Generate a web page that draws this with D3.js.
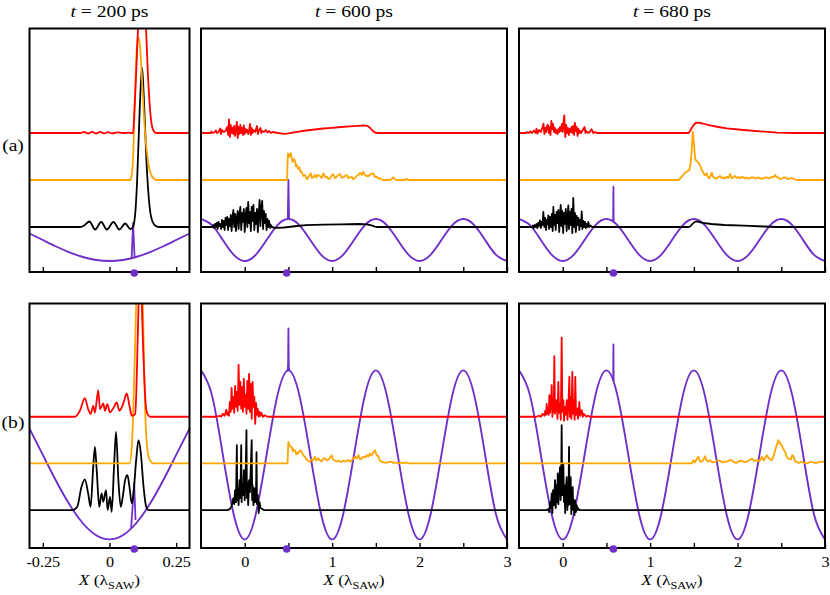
<!DOCTYPE html>
<html><head><meta charset="utf-8">
<script src="https://cdn.jsdelivr.net/npm/d3@7"></script>
<style>body{margin:0;background:#fff}svg{display:block}</style>
</head><body>
<svg id="c" width="830" height="595"></svg>
<script>
// ---------------- DATA ----------------
const titles = ["200", "600", "680"];           // t = ... ps
const rowLabels = ["(a)", "(b)"];
const xDomainLeft = [-0.3, 0.3];
const xDomainWide = [-0.5, 3];
const ticksLeft = [-0.25, 0, 0.25];
const tickLabelsLeft = ["-0.25", "0", "0.25"];
const ticksWide = [0, 0.5, 1, 1.5, 2, 2.5, 3];
const tickLabelsWide = ["0", "", "1", "", "2", "", "3"];
const yDomainA = [0, 243.5];
const yDomainB = [0, 245];
// baseline offsets of the stacked traces [red, orange, black]
const baselineA = [139, 92, 45];
const baselineB = [131.5, 84.7, 38];
// marker positions (purple dots) per column
const dotX = [0.093, 0.48, 0.58];

// SAW potential (purple), sampled
const waveXWide = [-0.5,-0.375,-0.25,-0.125,0,0.125,0.25,0.375,0.5,0.625,0.75,0.875,1,1.125,1.25,1.375,1.5,1.625,1.75,1.875,2,2.125,2.25,2.375,2.5,2.625,2.75,2.875,3];
const waveWideA = [53,46.9,32,17.1,11,17.1,32,46.9,53,46.9,32,17.1,11,17.1,32,46.9,53,46.9,32,17.1,11,17.1,32,46.9,53,46.9,32,17.1,11];
const waveWideB = [178,153.2,93.3,33.4,8.6,33.4,93.3,153.2,178,153.2,93.3,33.4,8.6,33.4,93.3,153.2,178,153.2,93.3,33.4,8.6,33.4,93.3,153.2,178,153.2,93.3,33.4,8.6];
const waveXLeft = [-0.3,-0.25,-0.2,-0.15,-0.1,-0.05,0,0.05,0.1,0.15,0.2,0.25,0.3];
const waveLeftA = [38.5,32,25.5,19.7,15,12,11,12,15,19.7,25.5,32,38.5];
const waveLeftB = [119.5,93.3,67.1,43.5,24.8,12.8,8.6,12.8,24.8,43.5,67.1,93.3,119.5];
// spikes on the purple potential
const a200Spike = [[0.083,13.8],[0.0885,49],[0.094,14.5]];
const a600Spike = [[0.493,52.9],[0.5,92],[0.507,52.9]];
const a680Spike = [[0.577,50.6],[0.58,85.3],[0.583,50.1]];
const b200Spike = [[0.081,19.4],[0.0925,65],[0.0975,28]];
const b600Spike = [[0.488,177.4],[0.496,182],[0.5,220],[0.504,182],[0.512,177.4]];
const b680Spike = [[0.577,168.5],[0.58,204],[0.583,166.8]];

// ---- row (a), t = 200 ps ----
const a200Red = [[-0.3,0],[-0.11,0],[-0.095,1],[-0.08,-0.5],[-0.065,1.1],[-0.05,-0.5],[-0.035,1.1],[-0.02,-0.4],[-0.005,0.9],[0.01,-0.3],[0.03,0.7],[0.05,0],[0.07,0.4],[0.085,0],[0.088,0],[0.094,25],[0.1,60],[0.107,105],[0.115,140],[0.125,150],[0.131,140],[0.137,105],[0.143,65],[0.1495,33],[0.155,15],[0.16,6],[0.167,1.5],[0.175,0],[0.3,0]];
const a200Orange = [[-0.3,0],[0.078,0],[0.083,4],[0.088,20],[0.093,60],[0.097,97],[0.101,125],[0.1055,143],[0.11,141],[0.1157,130],[0.122,100],[0.128,70],[0.134,45],[0.1409,27],[0.148,13],[0.154,7],[0.16,3.3],[0.168,1],[0.178,0],[0.3,0]];
const a200Black = [[-0.3,0],[-0.11,0],[-0.095,1.5],[-0.075,5.5],[-0.054,-2.5],[-0.031,5],[-0.01,-2.5],[0.015,5],[0.037,-2.5],[0.059,3.5],[0.078,-2],[0.088,0],[0.0906,2],[0.097,15],[0.1032,44],[0.1132,117],[0.118,145],[0.122,159],[0.126,145],[0.1307,117],[0.1409,54],[0.147,30],[0.1533,14],[0.162,5],[0.172,1.3],[0.185,0],[0.3,0]];

// ---- row (a), t = 600 ps ----
const a600Red = [[-0.5,0],[-0.39,0],[-0.38,1.5],[-0.37,0],[-0.35,0.5],[-0.33,2.5],[-0.32,0],[-0.3,1],[-0.28,4.5],[-0.27,-1],[-0.26,3],[-0.24,1],[-0.22,2],[-0.2,6],[-0.19,-2],[-0.18,13.5],[-0.17,-4],[-0.16,8],[-0.15,0],[-0.14,5],[-0.13,-1],[-0.12,7],[-0.11,-3],[-0.1,4],[-0.09,11],[-0.08,-5],[-0.07,6],[-0.06,-1],[-0.05,8],[-0.04,0],[-0.03,5],[-0.02,-2],[-0.01,7.5],[0,-1],[0.01,4],[0.02,1],[0.03,3],[0.04,-1],[0.05,2],[0.06,9],[0.07,-2],[0.08,5],[0.09,0],[0.1,3],[0.12,1],[0.13,4],[0.14,7],[0.15,-1],[0.16,2],[0.18,5],[0.19,0],[0.2,2],[0.22,1],[0.24,3],[0.26,0.5],[0.28,2],[0.3,0],[0.32,1],[0.35,0.5],[0.38,0],[0.45,-0.8],[0.5,-0.3],[0.6,1.2],[0.7,2.5],[0.8,3.5],[0.9,4.5],[1.0,5.2],[1.1,6],[1.2,6.6],[1.3,7.2],[1.36,7.6],[1.4,7.2],[1.43,5.5],[1.46,2.5],[1.49,0.5],[1.52,0],[3,0]];
const a600Orange = [[-0.5,0],[0.485,0],[0.49,18],[0.495,26.7],[0.51,23],[0.526,27],[0.54,21],[0.549,18],[0.56,21],[0.576,19],[0.585,14],[0.595,15],[0.61,11],[0.625,12.7],[0.64,8],[0.652,8.3],[0.67,4],[0.69,5],[0.705,2],[0.716,0.7],[0.735,4],[0.755,6.7],[0.77,2],[0.785,2.7],[0.805,5],[0.82,2.5],[0.835,5],[0.862,4],[0.88,2],[0.9,6.7],[0.92,3],[0.938,3.3],[0.955,1],[0.976,1.7],[0.995,4.5],[1.014,5.7],[1.03,2],[1.053,3.3],[1.07,5],[1.09,6],[1.11,2],[1.128,2.7],[1.145,4],[1.167,5],[1.185,2],[1.205,2.7],[1.225,3],[1.243,0.7],[1.26,2],[1.28,4],[1.3,5],[1.32,7.3],[1.34,5],[1.357,8.3],[1.375,5],[1.396,4],[1.415,4],[1.434,5.7],[1.45,6],[1.471,6.7],[1.49,3],[1.51,3.3],[1.53,1.5],[1.548,1.7],[1.57,0.3],[1.586,0],[1.662,0],[1.68,1],[1.7,2.7],[1.72,0.5],[1.739,0],[1.84,0],[1.853,1.3],[1.875,0],[3,0]];
const a600Black = [[-0.5,0],[-0.37,0],[-0.36,2],[-0.35,-1],[-0.34,3],[-0.33,0],[-0.32,4],[-0.31,-2],[-0.3,5],[-0.29,1],[-0.28,3],[-0.27,-2],[-0.26,7],[-0.25,0],[-0.24,6],[-0.23,-3],[-0.22,9],[-0.21,2],[-0.2,10],[-0.19,-3],[-0.18,8],[-0.17,1],[-0.16,12],[-0.15,-4],[-0.14,10],[-0.13,17],[-0.12,0],[-0.11,13],[-0.1,-4],[-0.09,9],[-0.08,16],[-0.07,-2],[-0.06,12],[-0.05,20],[-0.04,-3],[-0.03,14],[-0.02,5],[-0.01,18],[0,-5],[0.01,11],[0.02,19],[0.03,0],[0.04,25],[0.05,4],[0.06,15],[0.07,-4],[0.08,20],[0.09,6],[0.1,22],[0.11,-3],[0.12,14],[0.13,3],[0.14,18],[0.15,-5],[0.16,12],[0.17,27],[0.18,1],[0.19,20],[0.2,26],[0.21,-2],[0.22,16],[0.23,4],[0.24,13],[0.25,-3],[0.26,8],[0.27,0],[0.28,6],[0.29,-1],[0.3,2],[0.31,0],[0.35,-0.8],[0.45,-0.5],[0.5,0],[0.6,1],[0.7,1.8],[0.9,2.3],[1.1,2.7],[1.3,3],[1.4,2.6],[1.45,1.6],[1.49,0.4],[1.52,0],[3,0]];

// ---- row (a), t = 680 ps ----
const a680Red = [[-0.5,0],[-0.42,0],[-0.41,1],[-0.39,0],[-0.37,1.5],[-0.35,0],[-0.33,2.5],[-0.31,0],[-0.3,4.3],[-0.29,-0.5],[-0.27,3],[-0.25,1],[-0.23,6],[-0.22,9.3],[-0.21,-1],[-0.2,5],[-0.19,1],[-0.18,7],[-0.17,8.3],[-0.16,0],[-0.15,6],[-0.14,-2],[-0.13,12],[-0.12,4],[-0.11,9],[-0.1,1],[-0.09,5],[-0.08,0],[-0.07,3],[-0.06,-1],[-0.05,4],[-0.04,1],[-0.03,6],[-0.02,2],[-0.01,9],[0,1],[0.01,12],[0.018,17.7],[0.025,3],[0.03,-4],[0.04,8],[0.05,0],[0.06,5],[0.07,-2],[0.08,4],[0.09,1],[0.1,6],[0.11,0],[0.12,7],[0.13,-2],[0.14,10],[0.15,2],[0.16,6],[0.17,-3],[0.18,4],[0.19,0],[0.2,2],[0.21,0],[0.23,3],[0.25,6],[0.26,0],[0.27,2],[0.29,0],[0.31,1],[0.33,3.7],[0.35,0],[0.37,1],[0.39,0],[1.44,0],[1.456,2],[1.494,7.7],[1.52,10],[1.55,10.3],[1.6,9.5],[1.685,7.7],[1.78,6],[1.876,4.7],[2.07,3],[2.257,1.7],[2.45,0.3],[2.64,0],[3,0]];
const a680Orange = [[-0.5,0],[1.323,0],[1.36,3],[1.399,7.3],[1.43,9],[1.449,10],[1.465,18],[1.476,30],[1.487,48.3],[1.498,40],[1.514,21.7],[1.528,19],[1.54,18.3],[1.555,17],[1.571,15],[1.585,11],[1.602,8.3],[1.615,6],[1.628,5],[1.647,6.7],[1.66,3],[1.677,1.7],[1.69,4],[1.705,7.3],[1.718,3],[1.731,2.7],[1.745,1.5],[1.762,1.7],[1.78,3],[1.8,4],[1.82,2],[1.838,2.7],[1.855,1.5],[1.876,3.3],[1.895,2],[1.914,6],[1.933,1.7],[1.95,2.5],[1.971,4],[1.99,2],[2.01,3],[2.029,1.7],[2.05,3],[2.067,2.7],[2.09,1.5],[2.105,2.5],[2.124,1.3],[2.15,2.5],[2.181,2.7],[2.21,1.3],[2.23,2.5],[2.257,2],[2.28,1],[2.31,2.3],[2.334,2.7],[2.36,1.5],[2.391,3.3],[2.41,2.5],[2.429,5],[2.447,3],[2.467,2.7],[2.485,1],[2.505,1.3],[2.525,2.5],[2.544,2.7],[2.57,1],[2.601,1.3],[2.62,2],[2.639,1.3],[2.66,0.5],[2.677,0],[3,0]];
const a680Black = [[-0.5,0],[-0.35,0],[-0.34,1.5],[-0.33,-1],[-0.32,2],[-0.31,0],[-0.3,3],[-0.29,-1],[-0.28,4],[-0.27,1],[-0.26,6.7],[-0.25,-1],[-0.24,5],[-0.23,2],[-0.222,15],[-0.21,0],[-0.2,9],[-0.19,-3],[-0.18,7],[-0.17,3],[-0.165,11.7],[-0.155,-2],[-0.145,10],[-0.135,0],[-0.125,13],[-0.115,-4],[-0.107,20],[-0.1,2],[-0.09,12],[-0.08,-3],[-0.07,15],[-0.06,4],[-0.05,17],[-0.04,-5],[-0.03,12],[-0.023,22],[-0.015,1],[-0.005,16],[0.005,-6],[0.015,14],[0.025,3],[0.035,18],[0.045,-4],[0.055,10],[0.064,21.7],[0.072,-2],[0.082,15],[0.09,2],[0.1,18],[0.11,-6],[0.121,29],[0.13,0],[0.14,14],[0.15,-5],[0.16,11],[0.17,2],[0.18,9],[0.19,-3],[0.2,7],[0.21,1],[0.217,15.7],[0.225,-2],[0.235,6],[0.245,0],[0.255,5],[0.265,-1],[0.275,3],[0.285,0],[0.293,5],[0.305,0],[0.32,1.5],[0.335,0],[1.44,0],[1.457,0.5],[1.5,4.5],[1.53,5.7],[1.6,4.2],[1.7,3],[1.85,2],[2.07,1.3],[2.3,0.5],[2.45,0],[3,0]];

// ---- row (b), t = 200 ps ----
const b200Red = [[-0.3,0],[-0.13,0],[-0.111,6],[-0.0925,18.7],[-0.08,7.7],[-0.071,2.7],[-0.061,11],[-0.0547,4.3],[-0.0421,26.7],[-0.0358,7.7],[-0.0233,13.3],[-0.017,6],[-0.0082,12.7],[0.0019,4.3],[0.0145,8.7],[0.027,14.3],[0.037,6],[0.046,9.3],[0.0547,16],[0.0648,23.3],[0.0748,11],[0.0836,1],[0.0962,2.7],[0.1,20],[0.105,70],[0.1088,111],[0.115,160],[0.1215,111],[0.126,70],[0.131,35],[0.136,12],[0.1403,4.3],[0.147,1],[0.153,0],[0.3,0]];
const b200Orange = [[-0.3,0],[0.075,0],[0.0836,16.7],[0.0924,83],[0.1,158],[0.112,230],[0.1252,158],[0.13,95],[0.134,50],[0.14,20],[0.1465,6.7],[0.155,2],[0.165,0],[0.3,0]];
const b200Black = [[-0.3,0],[-0.137,0],[-0.121,3.3],[-0.105,23.3],[-0.0925,30.7],[-0.08,16.7],[-0.071,3.3],[-0.061,43.3],[-0.0547,63.3],[-0.048,40],[-0.0384,3.3],[-0.0296,16.7],[-0.0233,8.3],[-0.0132,20],[-0.0069,0],[0.0019,13.3],[0.0082,-1.7],[0.017,43.3],[0.0245,78.3],[0.0333,30],[0.0421,3.3],[0.0497,13.3],[0.0585,30],[0.0673,35],[0.0748,23.3],[0.0836,6.7],[0.0899,16.7],[0.1,50],[0.1088,70],[0.1176,56.7],[0.1277,23.3],[0.1377,3.3],[0.1465,0],[0.3,0]];

// ---- row (b), t = 600 ps ----
const b600Red = [[-0.5,0],[-0.32,0],[-0.29,1],[-0.27,0],[-0.25,3],[-0.23,1],[-0.21,7],[-0.2,2],[-0.19,4],[-0.18,1],[-0.17,15],[-0.16,5],[-0.15,29],[-0.14,8],[-0.13,20],[-0.12,4],[-0.11,31],[-0.1,10],[-0.09,25],[-0.08,6],[-0.07,52],[-0.06,12],[-0.05,35],[-0.04,8],[-0.03,30],[-0.02,5],[-0.01,38],[0,10],[0.01,22],[0.02,3],[0.03,36],[0.04,8],[0.05,43],[0.06,5],[0.07,33],[0.08,-2],[0.09,35],[0.1,10],[0.11,20],[0.12,-7],[0.13,14],[0.14,2],[0.15,8],[0.16,0],[0.17,5],[0.18,1],[0.19,4],[0.21,0],[0.23,1.5],[0.26,0],[3,0]];
const b600Orange = [[-0.5,0],[0.49,0],[0.499,21.7],[0.51,19],[0.52,17],[0.537,16.7],[0.55,12],[0.56,14],[0.576,13],[0.59,9],[0.6,11],[0.613,10],[0.63,13],[0.652,11.7],[0.67,8],[0.69,6.7],[0.705,4],[0.72,3],[0.747,1.7],[0.765,4],[0.78,3],[0.804,6.7],[0.82,3],[0.84,5],[0.862,3],[0.88,2],[0.9,5],[0.919,5],[0.94,3],[0.96,4],[0.995,8.3],[1.01,4],[1.033,3],[1.05,2],[1.07,3],[1.09,1.7],[1.11,1.7],[1.13,3],[1.15,2],[1.17,3],[1.185,3.3],[1.21,1.7],[1.23,4],[1.262,6.7],[1.28,5],[1.3,8.3],[1.32,4],[1.339,5],[1.36,7],[1.38,6],[1.396,8.3],[1.415,7],[1.434,10],[1.45,8],[1.47,11],[1.49,13.3],[1.51,8],[1.529,7.3],[1.545,3],[1.567,1.7],[1.59,1],[1.625,0.7],[1.65,1.5],[1.682,1.7],[1.7,0.5],[1.72,1],[1.758,0],[1.78,1],[1.796,0.7],[1.82,0.3],[1.85,1],[1.872,0],[3,0]];
const b600Black = [[-0.5,0],[-0.2,0],[-0.17,1],[-0.15,4],[-0.13,12],[-0.12,6],[-0.11,20],[-0.1,8],[-0.09,65],[-0.085,10],[-0.08,22],[-0.07,5],[-0.06,30],[-0.05,12],[-0.04,65],[-0.035,8],[-0.03,25],[-0.02,15],[-0.01,40],[0,10],[0.01,35],[0.02,80],[0.025,12],[0.03,28],[0.04,5],[0.05,30],[0.06,18],[0.07,45],[0.08,70],[0.085,10],[0.09,25],[0.1,5],[0.11,22],[0.12,8],[0.13,20],[0.135,58],[0.14,6],[0.15,15],[0.16,-3],[0.17,8],[0.18,2],[0.2,1],[0.22,0],[3,0]];

// ---- row (b), t = 680 ps ----
const b680Red = [[-0.5,0],[-0.3,0],[-0.27,1],[-0.25,0],[-0.23,3],[-0.21,1],[-0.2,6],[-0.19,2],[-0.183,13],[-0.175,3],[-0.165,9],[-0.16,2],[-0.153,21.7],[-0.145,4],[-0.135,12],[-0.126,31.7],[-0.118,0],[-0.11,18],[-0.103,5],[-0.096,60.7],[-0.088,3],[-0.08,14],[-0.069,16.7],[-0.06,-2],[-0.05,35],[-0.042,4],[-0.031,13.3],[-0.022,-3],[-0.012,79.3],[-0.004,5],[0.007,16.7],[0.015,-4],[0.026,10],[0.035,2],[0.046,16.7],[0.055,-3],[0.065,12],[0.076,40],[0.083,0],[0.091,20],[0.1,-2],[0.11,45],[0.12,3],[0.129,16.7],[0.136,-3],[0.144,40],[0.152,2],[0.16,8],[0.167,8.3],[0.175,-2],[0.183,6],[0.19,15],[0.2,1],[0.208,5],[0.217,6.7],[0.23,0],[0.24,3],[0.255,1.7],[0.27,0],[0.29,1],[0.312,0],[3,0]];
const b680Orange = [[-0.5,0],[1.476,0],[1.495,3.3],[1.51,1],[1.53,4],[1.552,6.7],[1.57,2],[1.59,1.7],[1.61,4],[1.628,7.3],[1.645,3],[1.66,2],[1.685,3.3],[1.71,1],[1.743,1.7],[1.77,3],[1.8,2.7],[1.83,1],[1.853,2],[1.876,1.7],[1.9,3],[1.933,3.3],[1.96,1],[1.99,0.7],[2.02,2.5],[2.048,2.7],[2.075,1.5],[2.105,1.7],[2.13,3],[2.162,5],[2.19,2.5],[2.22,3.3],[2.25,2],[2.277,6.7],[2.3,3],[2.334,8.3],[2.36,5],[2.391,3.3],[2.41,7],[2.43,13.3],[2.45,19],[2.467,23.3],[2.485,20],[2.505,18.3],[2.525,14],[2.544,11.7],[2.565,6],[2.582,5],[2.61,4],[2.625,8.3],[2.639,7],[2.66,2],[2.677,1.7],[2.7,0.5],[2.734,1.7],[2.76,0.5],[2.791,0],[2.82,1],[2.848,1.7],[2.88,0.5],[2.906,0.7],[2.935,1.5],[2.963,1.7],[3,2]];
const b680Black = [[-0.5,0],[-0.18,0],[-0.165,1],[-0.155,-2],[-0.145,8],[-0.135,2],[-0.126,16.7],[-0.118,-3],[-0.11,20],[-0.1,5],[-0.088,30],[-0.08,2],[-0.07,25],[-0.063,8],[-0.057,36.7],[-0.05,6],[-0.04,28],[-0.031,43],[-0.024,10],[-0.017,35],[-0.012,85],[-0.006,15],[0.0,30],[0.007,46.7],[0.014,8],[0.02,25],[0.028,-3],[0.036,22],[0.046,33],[0.053,0],[0.06,18],[0.066,5],[0.072,63.3],[0.079,6],[0.085,20],[0.091,33],[0.098,-4],[0.105,14],[0.114,23],[0.12,0],[0.128,10],[0.135,-5],[0.141,10],[0.15,-2],[0.16,5],[0.17,0],[0.179,1.7],[0.19,0],[3,0]];

// ---------------- LAYOUT / STYLE ----------------
const COLORS = {red:"#ff0000", orange:"#ffa500", black:"#000000", purple:"#6f2fc8"};
const FONT = "'Liberation Serif','Times New Roman',serif";
const SX = 1.12; // horizontal stretch of the lettering
const cols = [{x0:29.5,x1:189.5},{x0:201,x1:507},{x0:519,x1:825}];
const rows = [{y0:28.5,y1:272},{y0:303.5,y1:548}];

const panels = [
  {r:0,c:0,dom:xDomainLeft,yd:yDomainA,base:baselineA,red:a200Red,orange:a200Orange,black:a200Black,wx:waveXLeft,wy:waveLeftA,spike:a200Spike,smooth:true},
  {r:0,c:1,dom:xDomainWide,yd:yDomainA,base:baselineA,red:a600Red,orange:a600Orange,black:a600Black,wx:waveXWide,wy:waveWideA,spike:a600Spike,smooth:false},
  {r:0,c:2,dom:xDomainWide,yd:yDomainA,base:baselineA,red:a680Red,orange:a680Orange,black:a680Black,wx:waveXWide,wy:waveWideA,spike:a680Spike,smooth:false},
  {r:1,c:0,dom:xDomainLeft,yd:yDomainB,base:baselineB,red:b200Red,orange:b200Orange,black:b200Black,wx:waveXLeft,wy:waveLeftB,spike:b200Spike,smooth:true},
  {r:1,c:1,dom:xDomainWide,yd:yDomainB,base:baselineB,red:b600Red,orange:b600Orange,black:b600Black,wx:waveXWide,wy:waveWideB,spike:b600Spike,smooth:false},
  {r:1,c:2,dom:xDomainWide,yd:yDomainB,base:baselineB,red:b680Red,orange:b680Orange,black:b680Black,wx:waveXWide,wy:waveWideB,spike:b680Spike,smooth:false}
];

const svg = d3.select("#c");
const defs = svg.append("defs");

panels.forEach((p, i) => {
  const col = cols[p.c], row = rows[p.r];
  const x = d3.scaleLinear().domain(p.dom).range([col.x0, col.x1]);
  const y = d3.scaleLinear().domain(p.yd).range([row.y1, row.y0]);
  defs.append("clipPath").attr("id", "clip" + i)
    .append("rect").attr("x", col.x0).attr("y", row.y0)
    .attr("width", col.x1 - col.x0).attr("height", row.y1 - row.y0);
  const g = svg.append("g").attr("clip-path", `url(#clip${i})`);

  // purple potential
  const waveLine = d3.line().x(d => x(d[0])).y(d => y(d[1])).curve(d3.curveNatural);
  g.append("path").datum(p.wx.map((v, k) => [v, p.wy[k]]))
    .attr("d", waveLine).attr("fill", "none").attr("stroke", COLORS.purple)
    .attr("stroke-width", 1.9);
  g.append("path").datum(p.spike)
    .attr("d", d3.line().x(d => x(d[0])).y(d => y(d[1])))
    .attr("fill", "none").attr("stroke", COLORS.purple).attr("stroke-width", 1.8)
    .attr("stroke-linejoin", "round");

  const trace = (data, off, color) => {
    const ln = d3.line().x(d => x(d[0])).y(d => y(off + d[1]))
      .curve(p.smooth ? d3.curveMonotoneX : d3.curveLinear);
    g.append("path").datum(data).attr("d", ln).attr("fill", "none")
      .attr("stroke", color).attr("stroke-width", 1.8)
      .attr("stroke-linejoin", "round");
  };
  trace(p.black, p.base[2], COLORS.black);
  trace(p.orange, p.base[1], COLORS.orange);
  trace(p.red, p.base[0], COLORS.red);

  // frame
  svg.append("rect").attr("x", col.x0).attr("y", row.y0)
    .attr("width", col.x1 - col.x0).attr("height", row.y1 - row.y0)
    .attr("fill", "none").attr("stroke", "#000").attr("stroke-width", 2);

  // axis ticks (inward)
  const isLeft = p.c === 0;
  const tv = isLeft ? ticksLeft : ticksWide;
  const tl = isLeft ? tickLabelsLeft : tickLabelsWide;
  const axis = d3.axisBottom(x).tickValues(tv).tickSizeInner(-5).tickSizeOuter(0)
    .tickFormat((d, k) => p.r === 1 ? tl[k] : "");
  const ag = svg.append("g").attr("transform", `translate(0,${row.y1})`).call(axis);
  ag.select(".domain").remove();
  ag.selectAll(".tick line").attr("stroke", "#000").attr("stroke-width", 1.4);
  ag.selectAll(".tick text").attr("font-family", FONT).attr("font-size", 14.5)
    .attr("fill", "#000").attr("y", 19).attr("dy", null)
    .attr("transform", `scale(${SX},1)`);

  // marker dot
  svg.append("circle").attr("cx", x(dotX[p.c])).attr("cy", row.y1 + 1)
    .attr("r", 3.8).attr("fill", COLORS.purple);

  // titles (top row) and x labels (bottom row)
  const cx = (col.x0 + col.x1) / 2;
  if (p.r === 0) {
    const t = svg.append("text").attr("font-family", FONT).attr("font-size", 17.5)
      .attr("text-anchor", "middle")
      .attr("transform", `translate(${cx},17) scale(${SX},1)`);
    t.append("tspan").attr("font-style", "italic").text("t");
    t.append("tspan").text(" = " + titles[p.c] + " ps");
  } else {
    const t = svg.append("text").attr("font-family", FONT).attr("font-size", 15.5)
      .attr("text-anchor", "middle")
      .attr("transform", `translate(${cx},585) scale(${SX},1)`);
    t.append("tspan").attr("font-style", "italic").text("X");
    t.append("tspan").text(" (λ");
    t.append("tspan").attr("font-size", 11).attr("dy", 4).text("SAW");
    t.append("tspan").attr("dy", -4).text(")");
  }
});

// row labels
[[151, 0], [428, 1]].forEach(([yy, k]) => {
  svg.append("text").attr("font-family", FONT).attr("font-size", 17.5)
    .attr("text-anchor", "middle")
    .attr("transform", `translate(13,${yy}) scale(${SX},1)`)
    .text(rowLabels[k]);
});
</script>
</body></html>
